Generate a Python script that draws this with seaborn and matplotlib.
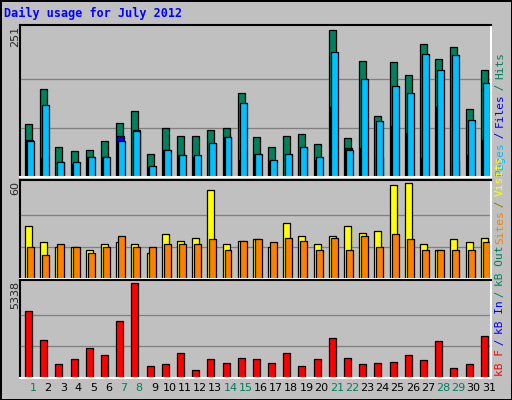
import matplotlib
matplotlib.use("Agg")
import matplotlib.pyplot as plt
import numpy as np
import pandas as pd
import seaborn as sns

days = list(range(1, 32))
weekend = [1, 7, 8, 14, 15, 21, 22, 28, 29]
hits = [90, 150, 51, 44, 46, 62, 92, 113, 39, 83, 70, 70, 80, 83, 144, 68, 52, 70, 73, 56,
        251, 66, 198, 104, 196, 174, 227, 201, 222, 116, 183]
files = [61, 123, 25, 25, 34, 35, 61, 78, 18, 47, 37, 37, 58, 68, 126, 39, 29, 39, 51, 34,
         213, 47, 167, 95, 155, 143, 210, 183, 208, 97, 160]
pages = [63, 32, 25, 23, 34, 34, 70, 80, 17, 46, 37, 34, 56, 68, 29, 39, 27, 37, 49, 29,
         119, 49, 49, 34, 88, 75, 32, 119, 27, 37, 64]
visits = [33, 23, 20, 20, 18, 22, 23, 22, 16, 28, 24, 26, 56, 22, 24, 25, 20, 35, 27, 22,
          27, 33, 29, 30, 59, 60, 22, 18, 25, 23, 26]
sites = [20, 15, 22, 20, 16, 20, 27, 20, 20, 22, 22, 22, 25, 18, 24, 25, 23, 26, 24, 18,
         26, 18, 27, 20, 28, 25, 18, 18, 18, 18, 23]
kbytes = [3760, 2124, 779, 1071, 1714, 1305, 3234, 5338, 662, 779, 1422, 429, 1071, 838, 1130,
          1071, 838, 1422, 662, 1071, 2240, 1130, 779, 838, 896, 1305, 1013, 2065, 545, 779, 2357]

df = pd.DataFrame({"day": days, "hits": hits, "files": files, "pages": pages,
                   "visits": visits, "sites": sites, "kbytes": kbytes})

sns.set_style("white")
plt.rcParams["font.family"] = ["DejaVu Sans Mono", "DejaVu Sans"]

fig = plt.figure(figsize=(5.12, 4.0), dpi=100)
fig.patch.set_facecolor("#c0c0c0")
fig.patch.set_edgecolor("black")
fig.patch.set_linewidth(2)
W, H = 512, 400
x = df["day"].to_numpy()
w = 0.46


def panel(top, bottom):
    ax = fig.add_axes([20 / W, 1 - bottom / H, 471 / W, (bottom - top) / H])
    ax.set_facecolor("#c0c0c0")
    ax.set_xlim(0.15, 31.15)
    ax.set_xticks([])
    ax.set_yticks([])
    for s in ax.spines.values():
        s.set_color("white")
        s.set_linewidth(1.5)
    ax.spines["top"].set_color("black")
    ax.spines["left"].set_color("black")
    return ax


def bars(ax, vals, off, color):
    ax.bar(x + off, vals, width=w, color=color, edgecolor="black", linewidth=0.9)


ax1 = panel(25, 177)
ymax = max(hits)
for g in (ymax / 3, ymax * 2 / 3):
    ax1.axhline(g, color="#808080", lw=0.9, zorder=0)
bars(ax1, df["hits"], -0.29, "#00805c")
bars(ax1, df["pages"], -0.21, "#0000ff")
bars(ax1, df["files"], -0.16, "#00c0ff")
ax1.set_ylim(0, ymax * 1.035)

ax2 = panel(180, 279)
vmax = max(visits)
for g in (vmax / 3, vmax * 2 / 3):
    ax2.axhline(g, color="#808080", lw=0.9, zorder=0)
bars(ax2, df["visits"], -0.29, "#ffff00")
bars(ax2, df["sites"], -0.16, "#ff8000")
ax2.set_ylim(0, vmax * 1.035)

ax3 = panel(280, 378)
kmax = max(kbytes)
for g in (kmax / 3, kmax * 2 / 3):
    ax3.axhline(g, color="#808080", lw=0.9, zorder=0)
bars(ax3, df["kbytes"], -0.29, "#ff0000")
ax3.set_ylim(0, kmax * 1.035)
ax3.set_xlim(0.15, 31.15)

for d in days:
    ax3.text(d, -0.1, str(d), transform=ax3.get_xaxis_transform(), ha="center", va="center",
             fontsize=8, family="DejaVu Sans",
             color="#00805c" if d in weekend else "black")

fig.text(4 / W, 1 - 13 / H, "Daily usage for July 2012", color="#0000ff", fontsize=8.5,
         fontweight="bold", va="center")
for val, yt in ((ymax, 26), (vmax, 181), (kmax, 281)):
    fig.text(15 / W, 1 - yt / H, str(val), rotation=90, ha="center", va="top", fontsize=8,
             family="DejaVu Sans")


def side_label(parts, ybottom):
    # text rotated 90 reads bottom to top, so stack pieces upward
    yy = 1 - ybottom / H
    for txt, col in parts:
        fig.text(500 / W, yy, txt, rotation=90, color=col, fontsize=8, ha="center",
                 va="bottom")
        yy += len(txt) * 6.0 / H


side_label([("Pages", "#00c0ff"), (" / ", "#0000ff"), ("Files", "#0000ff"),
            (" / ", "#00805c"), ("Hits", "#00805c")], 175)
side_label([("kB F", "#ff0000"), (" / ", "#0000ff"), ("kB In", "#0000ff"),
            (" / ", "#00805c"), ("kB Out", "#00805c"), (" ", "black"), ("Sites", "#ff8000"),
            (" / ", "#808000"), ("Visits", "#ffff00")], 376)
fig.savefig("out.png", dpi=100, facecolor=fig.get_facecolor(), edgecolor=fig.get_edgecolor())
